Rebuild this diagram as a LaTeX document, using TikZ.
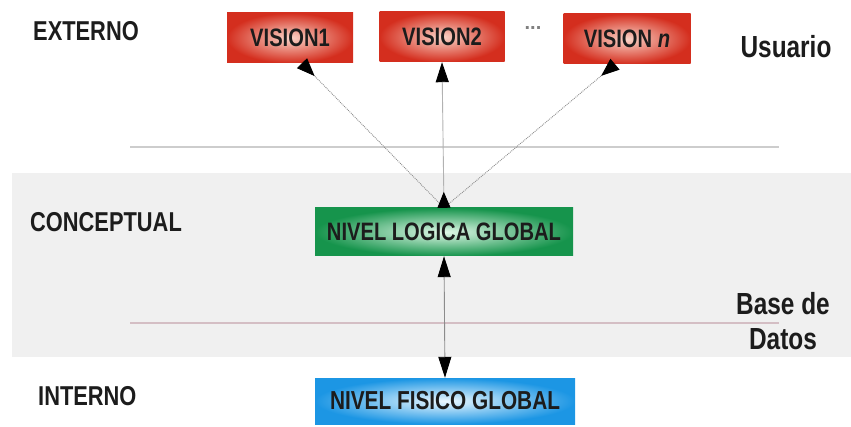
\documentclass[tikz,border=0pt]{standalone}
\usepackage{fontspec}
\setmainfont{Liberation Sans}
\newfontfamily\lblfont[FakeStretch=0.8]{Liberation Sans}
\usetikzlibrary{arrows.meta,calc}
\definecolor{bandgray}{RGB}{240,240,240}
\definecolor{redout}{RGB}{212,46,30}
\definecolor{redin}{RGB}{250,212,200}
\definecolor{greenout}{RGB}{22,148,76}
\definecolor{greenin}{RGB}{225,248,232}
\definecolor{blueout}{RGB}{28,150,228}
\definecolor{bluein}{RGB}{236,248,255}
\definecolor{inktext}{RGB}{28,28,28}
\definecolor{sepgray}{RGB}{205,205,205}
\definecolor{seppink}{RGB}{212,190,196}
\tikzset{
  lvl/.style={font=\lblfont\bfseries\fontsize{27.3}{30}\selectfont, text=inktext, inner sep=0pt},
  side/.style={font=\lblfont\bfseries\fontsize{30.5}{33}\selectfont, text=inktext, inner sep=0pt},
  boxtxt/.style={font=\lblfont\bfseries\fontsize{25.2}{27}\selectfont, text=inktext, inner sep=0pt},
  visbox/.style={boxtxt, shade, inner color=redin, outer color=redout, minimum height=50pt},
  logbox/.style={boxtxt, shade, inner color=greenin, outer color=greenout, minimum width=258pt, minimum height=48pt},
  fisbox/.style={boxtxt, shade, inner color=bluein, outer color=blueout, minimum width=260pt, minimum height=46pt},
  diag/.style={draw=black!45, densely dotted, line width=0.9pt},
  vert/.style={draw=black!30, line width=0.9pt},
  lower/.style={draw=black!45, line width=0.9pt},
}
\begin{document}
\begin{tikzpicture}[x=1pt,y=-1pt]
  \useasboundingbox (0,0) rectangle (851,427);
  % conceptual band
  \fill[bandgray] (12,173) rectangle (851,357);
  % separators
  \draw[sepgray, line width=2.5pt] (130,147) -- (779,147);
  \draw[seppink, line width=2pt] (130,323) -- (779,323);

  % level labels
  \node[lvl, anchor=west] (ext) at (33,31) {EXTERNO};
  \node[lvl, anchor=west] (con) at (30,222) {CONCEPTUAL};
  \node[lvl, anchor=west] (int) at (38,396) {INTERNO};
  \node[side] (usr) at (786,47) {Usuario};
  \node[side, align=center] (bd) at (783,321) {Base de\\[2pt]Datos};

  % external views
  \node[visbox, minimum width=126pt] (v1) at (290,38) {VISION1};
  \node[visbox, minimum width=125pt] (v2) at (442,37) {VISION2};
  \node[visbox, minimum width=127pt] (vn) at (627,39) {VISION \textit{n}};
  \node[font=\bfseries\fontsize{20}{20}\selectfont, text=black!50] (dots) at (533,28) {...};

  % global levels
  \node[logbox] (nlg) at (444,232) {NIVEL LOGICA GLOBAL};
  \node[fisbox, font=\lblfont\bfseries\fontsize{26}{28}\selectfont] (nfg) at (445,401) {NIVEL FISICO GLOBAL};

  % mappings
  \coordinate (v1b) at ($(v1.south)+(12,0)$);
  \coordinate (vnb) at ($(vn.south)+(-12,0)$);
  \draw[diag, {Triangle[reversed,length=18pt,width=14pt,black]}-] (v1b) -- (nlg.north);
  \draw[diag, {Triangle[reversed,length=18pt,width=14pt,black]}-] (vnb) -- (nlg.north);
  \draw[vert, {Triangle[reversed,length=16pt,width=13pt,black]}-{Triangle[length=20pt,width=13pt,black]}] (nlg.north) -- (v2.south);
  \draw[lower, {Triangle[length=21pt,width=13pt,black]}-{Triangle[length=21pt,width=13pt,black]}] (nlg.south) -- (nfg.north);
\end{tikzpicture}
\end{document}
